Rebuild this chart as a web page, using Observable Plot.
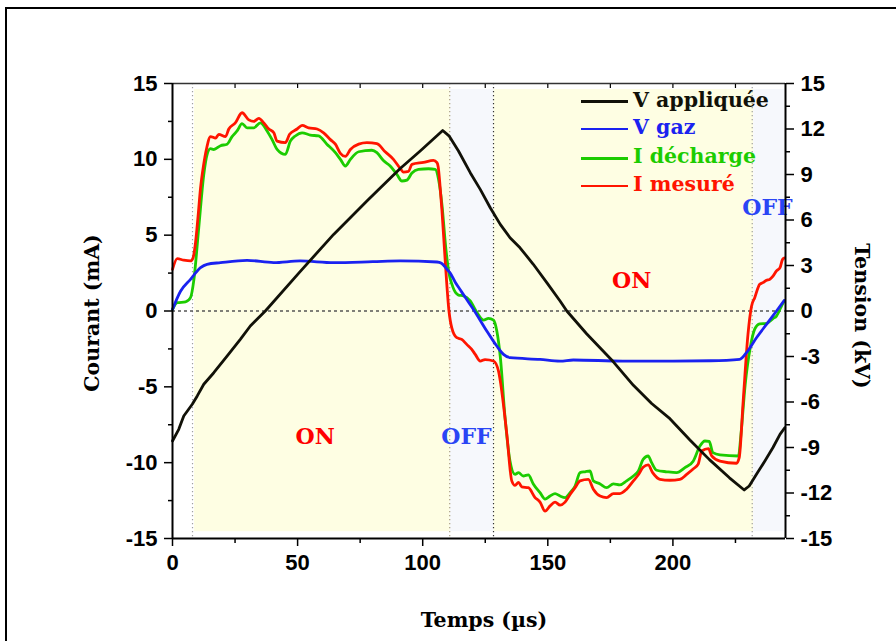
<!DOCTYPE html>
<html><head><meta charset="utf-8">
<script src="https://cdn.jsdelivr.net/npm/d3@7"></script>
<script src="https://cdn.jsdelivr.net/npm/@observablehq/plot@0.6"></script>
<style>
body{margin:0;background:#fff;}
#wrap{position:relative;width:896px;height:641px;overflow:hidden;background:#fff;}
#border{position:absolute;left:5px;top:7px;width:1000px;height:1000px;border-left:2px solid #000;border-top:2px solid #000;}
#chart{position:absolute;left:0;top:0;}
.title{position:absolute;font-family:"DejaVu Serif",serif;font-weight:bold;font-size:20.5px;color:#000;white-space:nowrap;line-height:1;}
.leg{position:absolute;font-family:"DejaVu Serif",serif;font-weight:bold;font-size:20.5px;white-space:nowrap;line-height:1;}
.legline{position:absolute;height:2.5px;width:47px;left:581px;}
</style></head>
<body>
<div id="wrap">
<div id="border"></div>
<div id="chart"></div>
</div>
<script>
// ---------- data ----------
const xDomain = [0, 245];
const yDomain = [-15, 15];

// V appliquée (kV)
const vAppT = [0,2.5,4.5,7.9,9.9,12.5,16.5,21.8,27.1,31.1,37.1,51,64.4,78,91,99,108,110.5,114.3,119,123,127,131,134.9,138.9,144.2,149.6,154.9,157.6,165.5,176.2,184.2,191.5,198.8,206.8,214.6,222.6,228.5,230.5,233.4,236.7,240,242.8,244.7];
const vAppV = [-8.57,-7.8,-6.92,-6.15,-5.6,-4.83,-4.07,-2.97,-1.87,-0.99,0,2.6,5.05,7.3,9.4,10.55,11.9,11.55,10.55,9.12,8.02,6.81,5.71,4.83,4.17,3.08,1.87,0.66,0,-1.5,-3.35,-4.9,-6.1,-7.1,-8.5,-9.8,-11.0,-11.8,-11.54,-10.77,-9.9,-9.0,-8.13,-7.7];

// V gaz (kV)
const vGazT = [0,3.2,7.2,11.2,13.8,19.2,29.8,40.4,51,64.4,80,91,105.7,107.5,109.7,111,113,115,117,120.3,125.6,129.6,132.3,134.9,146.9,154.9,160.2,180,200,215,226.7,229.4,233.4,237.4,241.4,244.5];
const vGazV = [0.1,1.3,2.09,2.86,3.08,3.19,3.34,3.19,3.3,3.19,3.25,3.3,3.23,3.15,2.75,2.5,1.9,1.4,0.9,0.1,-1.32,-2.31,-2.86,-3.08,-3.19,-3.3,-3.23,-3.3,-3.3,-3.28,-3.19,-2.75,-1.76,-0.88,0,0.7];

// I décharge (mA)
const iDechT = [0,1.9,5.2,7.2,8.5,10.5,12.5,13.8,15.2,16.5,19.2,21.8,23.8,25.8,27.8,29.8,32.5,35.1,37.8,39.8,41.8,45.1,47.1,49.1,51.8,55.1,58.4,61.7,65.1,67.1,69.1,71.1,74.4,79.7,81.7,84.4,87,89.7,91.7,93.7,95.7,98.3,102.3,105,106.3,107.7,109.2,110.6,111.6,112.5,114.3,116.3,119,121.7,124.3,126.3,128.3,129.6,131,132.9,134.9,136.9,138.3,140.2,142.2,144.2,146.9,148.9,150.9,152.9,154.9,156.9,158.9,160.9,162.9,164.9,166.9,168.2,170.9,173.5,176.2,178.8,181.5,184.2,186.2,188.1,190.1,191.5,193.5,197.5,201.5,204.8,208.1,210.8,212.8,214.5,216,218.8,226.2,227.2,228.9,230.9,232.7,234.7,237.4,240,241.4,243.4,244.5];
const iDechV = [0.1,0.55,0.6,0.88,2.0,5.5,9.0,10.3,10.7,10.65,10.9,11.0,11.5,11.87,12.35,12.08,12.08,12.41,11.87,11.3,10.66,10.33,11.2,11.54,11.75,11.6,11.54,11.0,10.44,10.0,9.56,10.0,10.5,10.6,10.44,9.9,9.56,9.0,8.57,8.63,9.1,9.34,9.38,9.34,8.7,7.0,4.2,2.4,1.8,1.4,1.05,1.0,0.66,-0.11,-0.6,-0.48,-0.6,-1.3,-3.0,-7.0,-9.9,-10.77,-10.66,-10.88,-10.8,-11.4,-11.98,-12.4,-12.2,-12.04,-12.2,-12.3,-11.98,-11.54,-10.66,-10.6,-10.55,-11.2,-11.4,-11.65,-11.4,-11.47,-11.2,-10.88,-10.55,-9.78,-9.56,-10.0,-10.5,-10.6,-10.66,-10.33,-9.9,-8.9,-8.57,-8.6,-9.34,-9.49,-9.56,-8.13,-4.83,-2.42,-1.2,-0.85,-0.82,-0.5,-0.33,0.33,0.66];

// I mesuré (mA)
const iMesT = [0,1.9,4.5,7.2,8.2,9.2,10.2,11.2,12.4,13.6,15.2,17.2,18.5,21.2,22.5,25.1,27.8,30.5,32.5,34.5,36.5,38.5,40.5,41.8,45.1,46.8,49.8,51.8,54.4,57.8,60.4,63.1,65.1,67.1,69.1,71.1,74.4,77.7,81.7,85,88.3,91,92.3,94.3,95.7,100.3,104.3,105.7,106.2,106.9,107.7,109,110.5,111.6,113.6,115.6,117.6,119.6,121,123,124.9,128.3,130.3,131,133.6,135.6,136.9,138.3,139.6,142.2,144.9,146.9,148.9,150.9,152.9,154.9,156.9,158.9,160.9,162.9,166.2,168.2,170.9,173.5,176.2,178.8,181.5,184.2,186.2,188.1,190.1,191.9,194.8,198.8,202.8,205.5,208.2,210.1,211.5,214.2,215.5,218.8,225.4,226.5,228.1,230,231.4,232.7,234.7,236,237.4,238.7,240,241.4,242.8,243.8,244.5];
const iMesV = [2.75,3.45,3.35,3.3,3.5,4.5,6.2,8.1,9.6,10.7,11.5,11.4,11.65,11.5,12.0,12.4,13.07,12.6,12.5,12.7,12.4,12.0,11.75,11.2,11.1,11.65,12.0,12.24,12.08,12.0,11.75,11.3,11.0,10.4,10.2,10.65,11.0,11.1,11.03,10.5,10.0,9.4,9.16,9.2,9.67,9.8,9.93,9.78,9.5,8.3,6.6,3.3,0,-1.1,-1.76,-1.87,-2.2,-2.53,-2.86,-3.3,-3.2,-3.3,-3.96,-4.6,-8.1,-11.2,-11.5,-11.3,-11.6,-11.65,-12.3,-12.6,-13.2,-12.85,-12.6,-12.8,-12.6,-12.1,-11.65,-11.2,-11.1,-11.75,-12.2,-12.3,-12.04,-12.04,-11.75,-11.2,-10.8,-10.3,-10.15,-10.66,-11.1,-11.16,-11.1,-10.77,-10.4,-10.1,-9.23,-9.07,-9.56,-9.9,-10.04,-9.67,-5.9,-1.54,0.3,0.88,1.76,1.87,2.02,2.09,2.3,2.64,2.86,3.4,3.5];

// phases (shaded bands) and their boundaries
const phaseStart = [8.8, 111, 128.5, 232.3];
const phaseEnd   = [111, 128.5, 232.3, 244.5];
const phaseState = ["ON", "OFF", "ON", "OFF"];
const boundaries = [8, 110.8, 128.3, 231.7];
const shadeRange = [-14.55, 14.6];

// annotations
const annText = ["ON", "OFF", "ON", "OFF"];
const annT = [57, 117.5, 183.5, 237.8];
const annV = [-8.3, -8.3, 2.0, 6.8];

// ticks
const xMajor = [0, 50, 100, 150, 200];
const xMinor = [25, 75, 125, 175, 225];
const xTop = [25, 50, 75, 100, 125, 150, 175, 200, 225];
const yLeftMajor = [-15, -10, -5, 0, 5, 10, 15];
const yLeftMinor = [-12.5, -7.5, -2.5, 2.5, 7.5, 12.5];
const yRightMajor = [-15, -12, -9, -6, -3, 0, 3, 6, 9, 12, 15];
const yRightMinor = [-13.5, -10.5, -7.5, -4.5, -1.5, 1.5, 4.5, 7.5, 10.5, 13.5];

// legend
const legendNames = ["V appliquée", "V gaz", "I décharge", "I mesuré"];

// ---------- build ----------
const colors = {"V appliquée": "#111108", "V gaz": "#1a22f0", "I décharge": "#1ccc00", "I mesuré": "#ff1500"};
const toRows = (ts, vs) => ts.map((t, i) => ({t, v: vs[i]}));
const series = {
  "V appliquée": toRows(vAppT, vAppV),
  "V gaz": toRows(vGazT, vGazV),
  "I décharge": toRows(iDechT, iDechV),
  "I mesuré": toRows(iMesT, iMesV)
};
const phases = phaseStart.map((s, i) => ({start: s, end: phaseEnd[i], state: phaseState[i]}));
const anns = annText.map((text, i) => ({text, t: annT[i], v: annV[i]}));
const boundaryColors = ["#a0a0a0", "#a89f80", "#333333", "#a0a0a0"];
const bnds = boundaries.map((b, i) => ({b, c: boundaryColors[i]}));

const tickFont = {fontSize: 22, fontWeight: "bold", fontFamily: "Liberation Sans, Arial, sans-serif"};
const fmt = d => String(d);
const lineOpts = (name) => ({x: "t", y: "v", stroke: colors[name], strokeWidth: 2.8, curve: "monotone-x"});

const chart = Plot.plot({
  width: 896, height: 641,
  marginLeft: 172, marginRight: 111, marginTop: 83, marginBottom: 103,
  x: {domain: xDomain},
  y: {domain: yDomain},
  style: {background: "transparent", overflow: "visible", fontFamily: "Liberation Sans, Arial, sans-serif", fontWeight: "bold", fontSize: "22px"},
  marks: [
    Plot.rect(phases, {x1: "start", x2: "end", y1: shadeRange[0], y2: shadeRange[1], fill: d => d.state === "ON" ? "#fefee3" : "#f6f8fc"}),
    Plot.ruleX(bnds, {x: "b", stroke: "c", strokeDasharray: "1.2,2.8", strokeWidth: 1.2}),
    Plot.ruleY([0], {stroke: "#555", strokeDasharray: "3,3", strokeWidth: 1.3}),
    Plot.line(series["I décharge"], lineOpts("I décharge")),
    Plot.line(series["I mesuré"], lineOpts("I mesuré")),
    Plot.line(series["V gaz"], lineOpts("V gaz")),
    Plot.line(series["V appliquée"], {...lineOpts("V appliquée"), curve: "linear"}),
    Plot.text(anns, {x: "t", y: "v", text: "text", fill: d => d.text === "ON" ? "#ff0000" : "#2a45f5", fontSize: 22, fontWeight: "bold", fontFamily: "DejaVu Serif, serif"}),
    // frame lines
    Plot.ruleY([yDomain[1]], {stroke: "#333", strokeWidth: 1.5}),
    Plot.ruleY([yDomain[0]], {stroke: "#000", strokeWidth: 2}),
    Plot.ruleX([xDomain[0], xDomain[1]], {stroke: "#000", strokeWidth: 2}),
    // axes
    Plot.axisX({ticks: xMajor, tickSize: 8, tickPadding: 8, tickFormat: fmt, label: null, strokeWidth: 1.5, ...tickFont}),
    Plot.axisX({ticks: xMinor, tickSize: 5, tickFormat: () => "", label: null, strokeWidth: 1.5}),
    Plot.axisX({anchor: "top", ticks: xTop, tickSize: -4, tickFormat: () => "", label: null, strokeWidth: 1.2}),
    Plot.axisY({anchor: "left", ticks: yLeftMajor, tickSize: 8, tickPadding: 7, tickFormat: fmt, label: null, strokeWidth: 1.5, ...tickFont}),
    Plot.axisY({anchor: "left", ticks: yLeftMinor, tickSize: 4, tickFormat: () => "", label: null, strokeWidth: 1.5}),
    Plot.axisY({anchor: "right", ticks: yRightMajor, tickSize: 8, tickPadding: 7, tickFormat: fmt, label: null, strokeWidth: 1.5, ...tickFont}),
    Plot.axisY({anchor: "right", ticks: yRightMinor, tickSize: 4, tickFormat: () => "", label: null, strokeWidth: 1.5})
  ]
});
document.getElementById("chart").appendChild(chart);

// titles
const wrap = document.getElementById("wrap");
function addTitle(text, x, y, rot) {
  const d = document.createElement("div");
  d.className = "title";
  d.textContent = text;
  d.style.left = x + "px";
  d.style.top = y + "px";
  d.style.transform = `translate(-50%,-50%) rotate(${rot}deg)`;
  wrap.appendChild(d);
}
addTitle("Courant (mA)", 92, 313, -90);
addTitle("Tension (kV)", 862, 316, 90);
addTitle("Temps (µs)", 484, 620, 0);

// legend
const legY = [101.7, 129, 158.3, 186];
legendNames.forEach((name, i) => {
  const l = document.createElement("div");
  l.className = "legline";
  l.style.top = (legY[i] - 1.25) + "px";
  l.style.background = colors[name];
  wrap.appendChild(l);
  const t = document.createElement("div");
  t.className = "leg";
  t.textContent = name;
  t.style.left = "633px";
  t.style.top = (legY[i] - 12) + "px";
  t.style.color = colors[name];
  wrap.appendChild(t);
});
</script>
</body></html>
